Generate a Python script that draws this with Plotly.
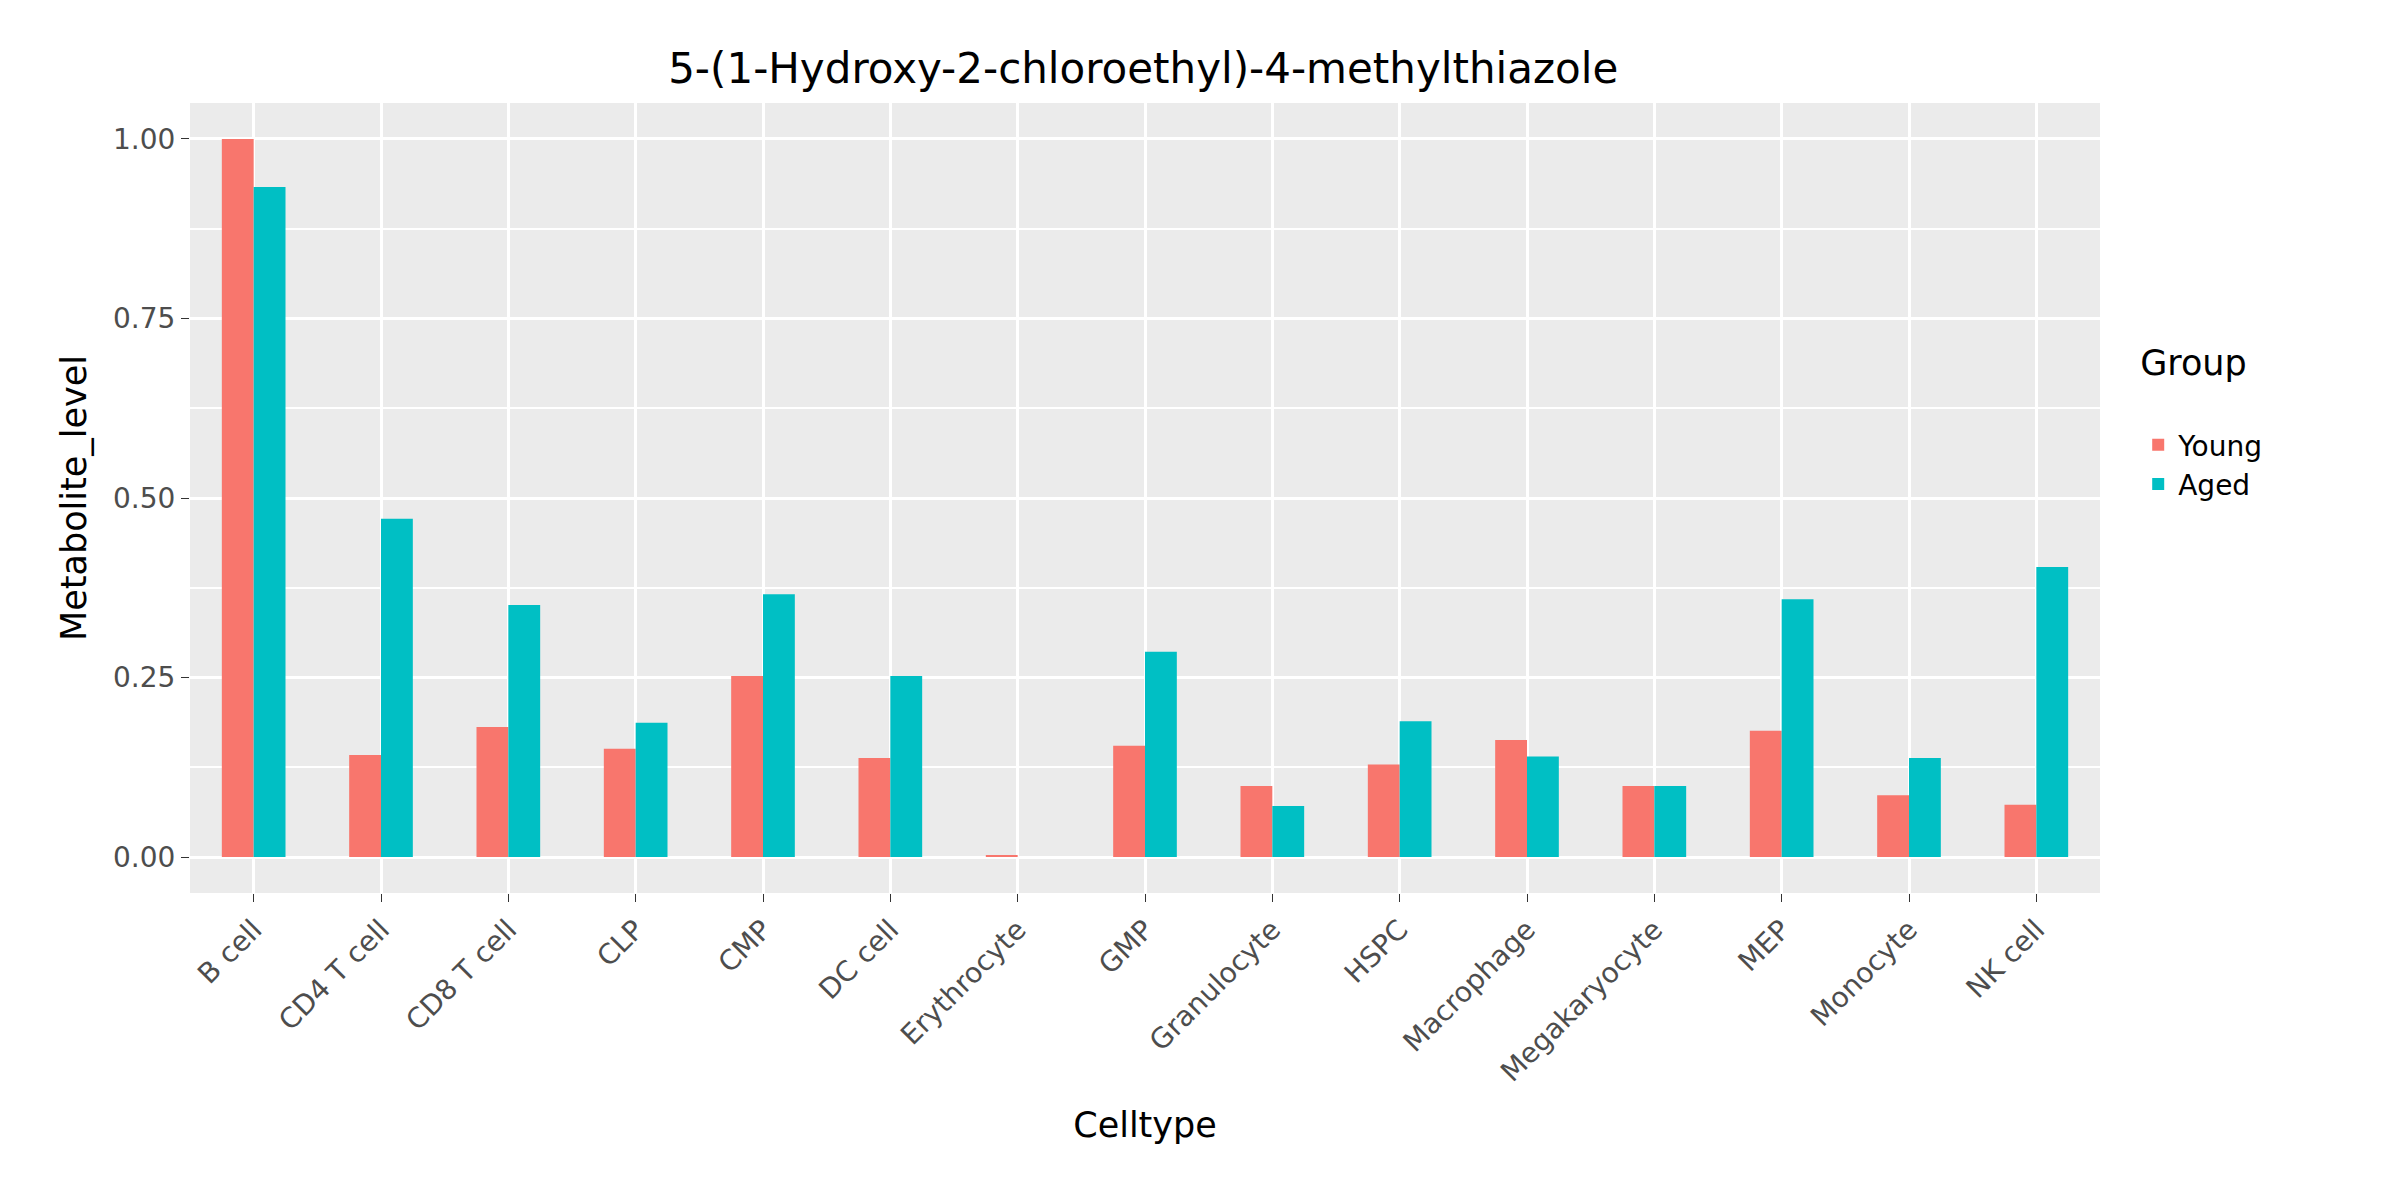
import plotly.graph_objects as go

celltypes = ["B cell", "CD4 T cell", "CD8 T cell", "CLP", "CMP", "DC cell", "Erythrocyte",
             "GMP", "Granulocyte", "HSPC", "Macrophage", "Megakaryocyte", "MEP", "Monocyte", "NK cell"]
young = [1.0, 0.142, 0.181, 0.151, 0.252, 0.138, 0.003, 0.155, 0.099, 0.129, 0.163, 0.099, 0.176, 0.086, 0.073]
aged = [0.933, 0.471, 0.351, 0.187, 0.366, 0.252, 0.0, 0.286, 0.071, 0.189, 0.140, 0.099, 0.359, 0.138, 0.404]
yticks = [0, 0.25, 0.5, 0.75, 1.0]
ylabels = ["0.00", "0.25", "0.50", "0.75", "1.00"]

fig = go.Figure()
fig.add_trace(go.Bar(x=celltypes, y=young, name="Young", marker_color="#F8766D", marker_line_width=0))
fig.add_trace(go.Bar(x=celltypes, y=aged, name="Aged", marker_color="#00BFC4", marker_line_width=0))

fig.update_layout(
    width=2400, height=1200,
    barmode="group", bargap=0.5, bargroupgap=0,
    paper_bgcolor="white", plot_bgcolor="#EBEBEB",
    font=dict(family="DejaVu Sans", color="black"),
    title=dict(text="5-(1-Hydroxy-2-chloroethyl)-4-methylthiazole", x=0.473, xanchor="center",
               y=0.962, font=dict(size=42)),
    margin=dict(l=182, r=308, t=95, b=315),
    legend=dict(title=dict(text="Group<br>", font=dict(size=35)), font=dict(size=28),
                x=1.02, y=0.6, yanchor="middle", itemsizing="constant", tracegroupgap=10),
)
fig.update_xaxes(title=dict(text="Celltype", font=dict(size=35), standoff=25), tickangle=-45,
                 tickfont=dict(size=28, color="#4D4D4D"), showgrid=True, gridcolor="white",
                 gridwidth=3, ticks="outside", ticklen=8, tickcolor="#333333")
fig.update_yaxes(title=dict(text="Metabolite_level", font=dict(size=35), standoff=15), range=[-0.05, 1.05],
                 tickvals=yticks, ticktext=ylabels, tickfont=dict(size=28, color="#4D4D4D"),
                 gridcolor="white", gridwidth=3, zeroline=False, ticks="outside", ticklen=8,
                 tickcolor="#333333", minor=dict(tickvals=[0.125, 0.375, 0.625, 0.875],
                                                 showgrid=True, gridcolor="white", gridwidth=1.5))
fig.write_html("out.html")
